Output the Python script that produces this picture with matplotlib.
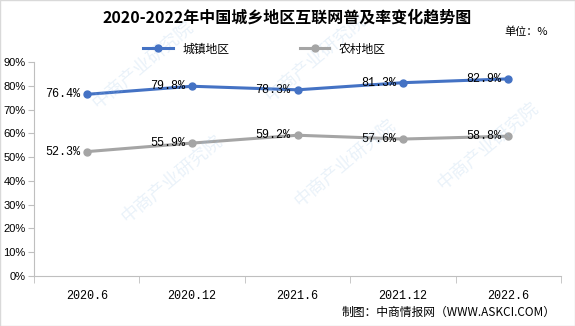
import matplotlib.pyplot as plt
import numpy as np

plt.rcParams['font.family'] = ['Noto Sans CJK SC', 'DejaVu Sans']

periods = ['2020.6', '2020.12', '2021.6', '2021.12', '2022.6']
urban = [76.4, 79.8, 78.3, 81.3, 82.9]
rural = [52.3, 55.9, 59.2, 57.6, 58.8]
yticks = list(range(0, 91, 10))

fig = plt.figure(figsize=(5.75, 3.26), dpi=100)
ax = fig.add_axes([34 / 575, 1 - 276 / 326, 527 / 575, 214 / 326])

# 水印
for wx, wy in [(0.25, 0.8), (0.55, 0.82), (0.3, 0.45), (0.6, 0.5), (0.85, 0.55)]:
    fig.text(wx, wy, '中商产业研究院', rotation=40, fontsize=13, color='#9DC3E6', alpha=0.22,
             ha='center', va='center', zorder=0)

x = np.arange(len(periods))
ax.plot(x, urban, color='#4472C4', lw=2.2, marker='o', ms=5, label='城镇地区')
ax.plot(x, rural, color='#A5A5A5', lw=2.2, marker='o', ms=5, label='农村地区')

for i in x:
    ax.annotate('%.1f%%' % urban[i], (i, urban[i]), xytext=(-5, 0), textcoords='offset points',
                ha='right', va='center', fontsize=8.5, family='Liberation Mono')
    ax.annotate('%.1f%%' % rural[i], (i, rural[i]), xytext=(-5, 0), textcoords='offset points',
                ha='right', va='center', fontsize=8.5, family='Liberation Mono')

ax.set_xlim(-0.5, len(periods) - 0.5)
ax.set_ylim(0, 90)
ax.set_yticks(yticks)
ax.set_yticklabels(['%d%%' % v for v in yticks], fontsize=8, family='Liberation Sans')
ax.set_xticks(x)
ax.set_xticklabels(periods, fontsize=8.5, family='Liberation Mono')
ax.set_xticks(np.arange(-0.5, len(periods), 1), minor=True)
ax.tick_params(axis='x', which='major', length=0, pad=10)
ax.tick_params(axis='x', which='minor', length=5, color='#BFBFBF')
ax.tick_params(axis='y', length=4, color='#BFBFBF', pad=2)
for s in ['top', 'right']:
    ax.spines[s].set_visible(False)
ax.spines['left'].set_color('#BFBFBF')
ax.spines['bottom'].set_color('#BFBFBF')
ax.patch.set_alpha(0)

fig.text(0.5, 1 - 18 / 326, '2020-2022年中国城乡地区互联网普及率变化趋势图', ha='center', va='center',
         fontsize=11.5, fontweight='bold')
fig.text(526 / 575, 1 - 32 / 326, '单位：%', ha='center', va='center', fontsize=8)
fig.text(556 / 575, 1 - 312 / 326, '制图：中商情报网（WWW.ASKCI.COM）', ha='right', va='center', fontsize=8.5)

fig.legend(loc='center', bbox_to_anchor=(0.46, 1 - 49 / 326), ncol=2, frameon=False,
           fontsize=8.5, columnspacing=6, handlelength=2.5)

fig.patches.append(plt.Rectangle((0, 0), 1, 1, transform=fig.transFigure, fill=False,
                                 edgecolor='#D9D9D9', lw=1))
fig.savefig('out.png', dpi=100)
